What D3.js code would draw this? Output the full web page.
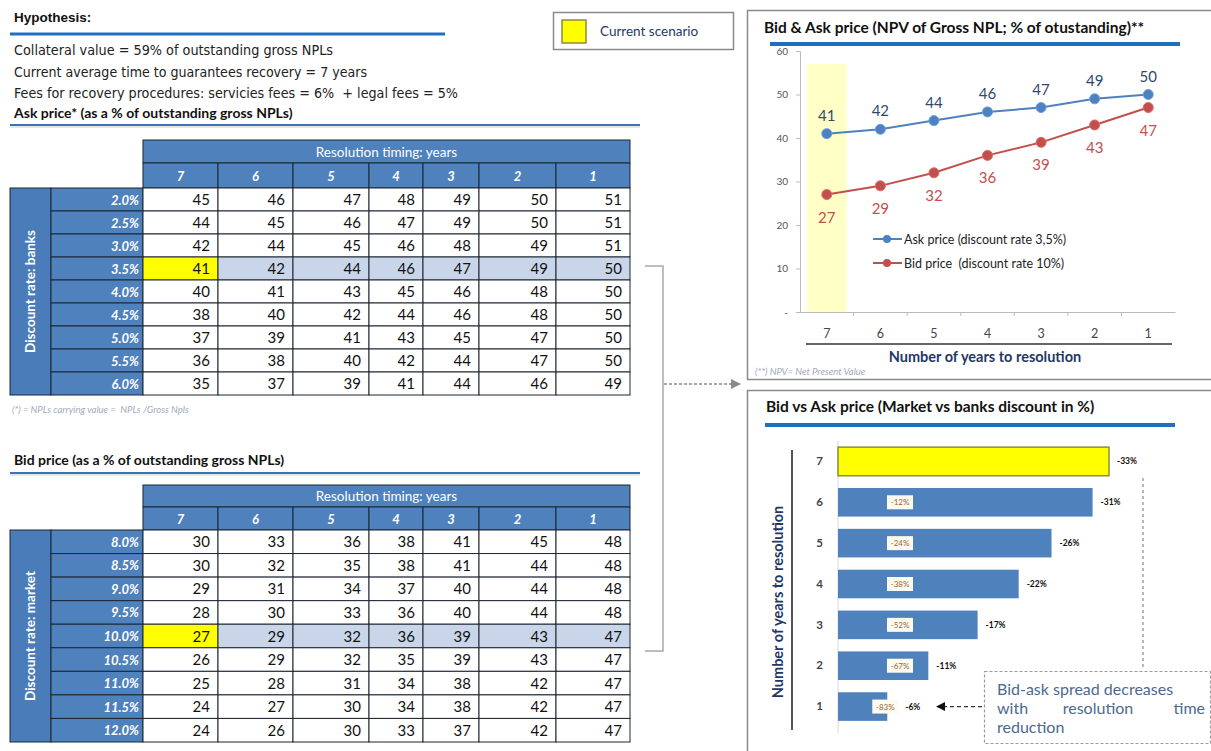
<!DOCTYPE html>
<html>
<head>
<meta charset="utf-8">
<script src="https://cdn.jsdelivr.net/npm/d3@7"></script>
<style>
  body { margin: 0; background: #fff; }
  svg { display: block; }
</style>
</head>
<body>
<script>
// ---- data ----
const years = [7, 6, 5, 4, 3, 2, 1]

const hypothesis = [
    "Collateral value = 59% of outstanding gross NPLs",
    "Current average time to guarantees recovery = 7 years",
    "Fees for recovery procedures: servicies fees = 6%  + legal fees = 5%"
]

const askRates = ["2.0%", "2.5%", "3.0%", "3.5%", "4.0%", "4.5%", "5.0%", "5.5%", "6.0%"]
const askValues = [
    [45, 46, 47, 48, 49, 50, 51],
    [44, 45, 46, 47, 49, 50, 51],
    [42, 44, 45, 46, 48, 49, 51],
    [41, 42, 44, 46, 47, 49, 50],
    [40, 41, 43, 45, 46, 48, 50],
    [38, 40, 42, 44, 46, 48, 50],
    [37, 39, 41, 43, 45, 47, 50],
    [36, 38, 40, 42, 44, 47, 50],
    [35, 37, 39, 41, 44, 46, 49]
]

const bidRates = ["8.0%", "8.5%", "9.0%", "9.5%", "10.0%", "10.5%", "11.0%", "11.5%", "12.0%"]
const bidValues = [
    [30, 33, 36, 38, 41, 45, 48],
    [30, 32, 35, 38, 41, 44, 48],
    [29, 31, 34, 37, 40, 44, 48],
    [28, 30, 33, 36, 40, 44, 48],
    [27, 29, 32, 36, 39, 43, 47],
    [26, 29, 32, 35, 39, 43, 47],
    [25, 28, 31, 34, 38, 42, 47],
    [24, 27, 30, 34, 38, 42, 47],
    [24, 26, 30, 33, 37, 42, 47]
]

const askCurrentRate = "3.5%"
const bidCurrentRate = "10.0%"
const askLine = askValues[askRates.indexOf(askCurrentRate)]
const bidLine = bidValues[bidRates.indexOf(bidCurrentRate)]

const spread = [-33, -31, -26, -22, -17, -11, -6]
const spreadChange = [null, -12, -24, -38, -52, -67, -83]

// ---- layout ----
const W = 1211, H = 751
const sans = "Lato, 'Open Sans', sans-serif"
const narrow = "'Liberation Sans Narrow', 'DejaVu Sans Condensed', sans-serif"
const blue = "#4F81BD"
const red = "#C0504D"
const navy = "#1F3864"
const colWidths = [75, 75, 76, 54, 56, 77, 74]

const svg = d3.select("body").append("svg").attr("width", W).attr("height", H)
svg.append("rect").attr("width", W).attr("height", H).attr("fill", "#fff")

// ---- hypothesis block ----
svg.append("text").attr("x", 14).attr("y", 22).text("Hypothesis:")
    .attr("font-family", "'Liberation Sans', Arial, sans-serif").attr("font-weight", "bold")
    .attr("font-size", 13.5).attr("fill", "#111")
svg.append("line").attr("x1", 10).attr("x2", 445).attr("y1", 34).attr("y2", 34)
    .attr("stroke", "#1F6FBF").attr("stroke-width", 3)

const hypWidths = [319, 353, 444]
hypothesis.forEach((t, i) => {
    svg.append("text").attr("x", 14).attr("y", 55 + i * 21.5).text(t).style("white-space", "pre")
        .attr("font-family", narrow).attr("font-size", 14).attr("fill", "#222")
        .attr("textLength", hypWidths[i]).attr("lengthAdjust", "spacingAndGlyphs")
})

function sectionTitle(txt, y, lineY) {
    svg.append("text").attr("x", 14).attr("y", y).text(txt)
        .attr("font-family", sans).attr("font-weight", "bold").attr("font-size", 14).attr("fill", "#111")
    svg.append("line").attr("x1", 10).attr("x2", 640).attr("y1", lineY).attr("y2", lineY)
        .attr("stroke", "#3F72B5").attr("stroke-width", 2.2)
    svg.append("line").attr("x1", 10).attr("x2", 640).attr("y1", lineY + 2).attr("y2", lineY + 2)
        .attr("stroke", "#C8CCD4").attr("stroke-width", 1)
}
sectionTitle("Ask price* (as a % of outstanding gross NPLs)", 118, 125)
sectionTitle("Bid price (as a % of outstanding gross NPLs)", 465, 473)

// current scenario legend
svg.append("rect").attr("x", 553.5).attr("y", 12.5).attr("width", 180).attr("height", 37)
    .attr("fill", "#fff").attr("stroke", "#8a8a8a").attr("stroke-width", 1.5)
svg.append("rect").attr("x", 562).attr("y", 20).attr("width", 24).attr("height", 23)
    .attr("fill", "#FFFF00").attr("stroke", "#8C8C3A").attr("stroke-width", 1.5)
svg.append("text").attr("x", 600).attr("y", 36).text("Current scenario")
    .attr("font-family", sans).attr("font-size", 13.5).attr("fill", navy)

// ---- tables ----
function drawTable(cfg) {
    const g = svg.append("g")
    const xStart = 143
    const colX = d3.scaleOrdinal().domain(years)
        .range(d3.cumsum([0].concat(colWidths.slice(0, -1))).map(d => xStart + d))
    const colW = d3.scaleOrdinal().domain(years).range(colWidths)
    const xEnd = xStart + d3.sum(colWidths)
    const row = d3.scaleBand().domain(cfg.rates).range([cfg.bodyTop, cfg.bottom])
    const stroke = "#1c2633"

    // header rows
    g.append("rect").attr("x", xStart).attr("y", cfg.top).attr("width", xEnd - xStart)
        .attr("height", cfg.head2 - cfg.top).attr("fill", blue).attr("stroke", stroke)
    g.append("text").attr("x", (xStart + xEnd) / 2).attr("y", (cfg.top + cfg.head2) / 2 + 5)
        .attr("text-anchor", "middle").text("Resolution timing: years")
        .attr("font-family", sans).attr("font-size", 13.5).attr("fill", "#fff")
    years.forEach(y => {
        g.append("rect").attr("x", colX(y)).attr("y", cfg.head2).attr("width", colW(y))
            .attr("height", cfg.bodyTop - cfg.head2).attr("fill", blue).attr("stroke", stroke)
        g.append("text").attr("x", colX(y) + colW(y) / 2).attr("y", (cfg.head2 + cfg.bodyTop) / 2 + 5)
            .attr("text-anchor", "middle").text(y)
            .attr("font-family", sans).attr("font-size", 13).attr("font-weight", "bold")
            .attr("font-style", "italic").attr("fill", "#fff")
    })

    // vertical title bar
    g.append("rect").attr("x", 10).attr("y", cfg.bodyTop).attr("width", 41)
        .attr("height", cfg.bottom - cfg.bodyTop).attr("fill", "#4A7CBA").attr("stroke", stroke)
    const cy = (cfg.bodyTop + cfg.bottom) / 2
    g.append("text").attr("transform", `translate(35,${cy}) rotate(-90)`)
        .attr("text-anchor", "middle").text(cfg.rowTitle)
        .attr("font-family", sans).attr("font-size", 13.5).attr("font-weight", "bold").attr("fill", "#fff")

    cfg.rates.forEach((r, i) => {
        const y0 = row(r), h = row.bandwidth()
        g.append("rect").attr("x", 51).attr("y", y0).attr("width", xStart - 51).attr("height", h)
            .attr("fill", blue).attr("stroke", stroke)
        g.append("text").attr("x", xStart - 4).attr("y", y0 + h / 2 + 5)
            .attr("text-anchor", "end").text(r)
            .attr("font-family", sans).attr("font-size", 13).attr("font-weight", "bold")
            .attr("font-style", "italic").attr("fill", "#fff")
        const current = r === cfg.current
        years.forEach((yr, j) => {
            let fill = "#fff"
            if (current) fill = j === 0 ? "#FFFF00" : "#C9D6EA"
            g.append("rect").attr("x", colX(yr)).attr("y", y0).attr("width", colW(yr)).attr("height", h)
                .attr("fill", fill).attr("stroke", stroke)
            g.append("text").attr("x", colX(yr) + colW(yr) - 8).attr("y", y0 + h / 2 + 5.5)
                .attr("text-anchor", "end").text(cfg.values[i][j])
                .attr("font-family", sans).attr("font-size", 15).attr("fill", "#111")
        })
    })
}

drawTable({ top: 140, head2: 163, bodyTop: 188, bottom: 395, rates: askRates, values: askValues,
    rowTitle: "Discount rate: banks", current: askCurrentRate })
drawTable({ top: 485, head2: 507, bodyTop: 530, bottom: 742, rates: bidRates, values: bidValues,
    rowTitle: "Discount rate: market", current: bidCurrentRate })

svg.append("text").attr("x", 12).attr("y", 413).text("(*) = NPLs carrying value =  NPLs /Gross Npls")
    .style("white-space", "pre")
    .attr("font-family", sans).attr("font-size", 9.5).attr("font-style", "italic").attr("fill", "#9FAAC0")

// bracket + arrow
svg.append("path").attr("d", "M645,266 H663 V651 H645").attr("fill", "none")
    .attr("stroke", "#a9a9a9").attr("stroke-width", 1.5)
const defs = svg.append("defs")
defs.append("marker").attr("id", "arrGray").attr("viewBox", "0 0 10 10").attr("refX", 9).attr("refY", 5)
    .attr("markerWidth", 7).attr("markerHeight", 7).attr("orient", "auto")
    .append("path").attr("d", "M0,0 L10,5 L0,10 z").attr("fill", "#8a8a8a")
defs.append("marker").attr("id", "arrBlack").attr("viewBox", "0 0 10 10").attr("refX", 9).attr("refY", 5)
    .attr("markerWidth", 7).attr("markerHeight", 7).attr("orient", "auto")
    .append("path").attr("d", "M0,0 L10,5 L0,10 z").attr("fill", "#111")
svg.append("line").attr("x1", 664).attr("x2", 740).attr("y1", 384).attr("y2", 384)
    .attr("stroke", "#8a8a8a").attr("stroke-width", 1.5).attr("stroke-dasharray", "3,2")
    .attr("marker-end", "url(#arrGray)")

// ---- top right: line chart ----
svg.append("rect").attr("x", 747.5).attr("y", 10.5).attr("width", 480).attr("height", 369)
    .attr("fill", "#fff").attr("stroke", "#8a8a8a").attr("stroke-width", 1.5)
svg.append("text").attr("x", 764).attr("y", 33).text("Bid & Ask price (NPV of Gross NPL; % of otustanding)**")
    .attr("font-family", sans).attr("font-weight", "bold").attr("font-size", 15.5).attr("fill", "#111")
svg.append("line").attr("x1", 770).attr("x2", 1180).attr("y1", 44).attr("y2", 44)
    .attr("stroke", "#1F6FBF").attr("stroke-width", 4)

const xL = d3.scaleBand().domain(years).range([800, 1175])
const yL = d3.scaleLinear().domain([0, 60]).range([312, 51])
const cx = d => xL(d) + xL.bandwidth() / 2

svg.append("rect").attr("x", xL(7) + 7).attr("y", yL(57)).attr("width", xL.bandwidth() - 14)
    .attr("height", yL(0) - yL(57)).attr("fill", "#FFFFC6")

const yAx = svg.append("g").attr("transform", "translate(800,0)")
    .call(d3.axisLeft(yL).tickValues([0, 10, 20, 30, 40, 50, 60]).tickSize(4).tickPadding(8)
        .tickFormat(d => d === 0 ? "-" : d))
yAx.selectAll("text").attr("font-family", sans).attr("font-size", 10).attr("fill", "#555")
yAx.selectAll("line").attr("stroke", "#bbb")
yAx.select(".domain").attr("stroke", "#bbb")

const xAx = svg.append("g").attr("transform", "translate(0,312)")
    .call(d3.axisBottom(xL).tickSize(0).tickPadding(17))
xAx.selectAll("text").attr("font-family", sans).attr("font-size", 12.5).attr("fill", "#444")
xAx.select(".domain").attr("stroke", "#bbb")
xAx.selectAll(".bnd").data(years.slice(1)).join("line").attr("class", "bnd")
    .attr("x1", d => xL(d)).attr("x2", d => xL(d)).attr("y1", 0).attr("y2", 4).attr("stroke", "#bbb")
svg.append("line").attr("x1", 806).attr("x2", 1172).attr("y1", 344).attr("y2", 344)
    .attr("stroke", "#333").attr("stroke-width", 1.5)
svg.append("text").attr("x", 985).attr("y", 362).attr("text-anchor", "middle")
    .text("Number of years to resolution")
    .attr("font-family", sans).attr("font-weight", "bold").attr("font-size", 14.5).attr("fill", navy)
svg.append("text").attr("x", 755).attr("y", 375).text("(**) NPV= Net Present Value")
    .attr("font-family", sans).attr("font-size", 9.5).attr("font-style", "italic").attr("fill", "#9FAAC0")

const line = d3.line().x((d, i) => cx(years[i])).y(d => yL(d))
const series = [
    { vals: askLine, color: blue, label: "#2F4A6D", dy: -13 },
    { vals: bidLine, color: red, label: red, dy: 28 }
]
series.forEach(s => {
    svg.append("path").attr("d", line(s.vals)).attr("fill", "none")
        .attr("stroke", s.color).attr("stroke-width", 2)
    svg.selectAll(null).data(s.vals).join("circle")
        .attr("cx", (d, i) => cx(years[i])).attr("cy", d => yL(d)).attr("r", 5)
        .attr("fill", s.color).attr("stroke", d3.color(s.color).brighter(0.6)).attr("stroke-width", 1)
    svg.selectAll(null).data(s.vals).join("text")
        .attr("x", (d, i) => cx(years[i])).attr("y", d => yL(d) + s.dy)
        .attr("text-anchor", "middle").text(d => d)
        .attr("font-family", sans).attr("font-size", 15).attr("fill", s.label)
})

const legend = [
    { name: "Ask price (discount rate 3,5%)", color: blue },
    { name: "Bid price  (discount rate 10%)", color: red }
]
legend.forEach((l, i) => {
    const ly = 239 + i * 24
    svg.append("line").attr("x1", 873).attr("x2", 902).attr("y1", ly).attr("y2", ly)
        .attr("stroke", l.color).attr("stroke-width", 2)
    svg.append("circle").attr("cx", 887).attr("cy", ly).attr("r", 4).attr("fill", l.color)
    svg.append("text").attr("x", 904).attr("y", ly + 4.5).text(l.name).style("white-space", "pre")
        .attr("font-family", sans).attr("font-size", 12.5).attr("fill", "#222")
})

// ---- bottom right: bar chart ----
svg.append("rect").attr("x", 747.5).attr("y", 390.5).attr("width", 480).attr("height", 380)
    .attr("fill", "#fff").attr("stroke", "#8a8a8a").attr("stroke-width", 1.5)
svg.append("text").attr("x", 766).attr("y", 412).text("Bid vs Ask price (Market vs banks discount in %)")
    .attr("font-family", sans).attr("font-weight", "bold").attr("font-size", 15.5).attr("fill", "#111")
svg.append("line").attr("x1", 765).attr("x2", 1175).attr("y1", 425).attr("y2", 425)
    .attr("stroke", "#1F6FBF").attr("stroke-width", 4)

const yB = d3.scaleBand().domain(years).range([441, 727]).paddingInner(0.3).paddingOuter(0.15)
const xB = d3.scaleLinear().domain([0, 33]).range([838, 1109])
const by = d => yB(d) + yB.bandwidth() / 2

svg.append("line").attr("x1", 838).attr("x2", 838).attr("y1", 441).attr("y2", 733)
    .attr("stroke", "#d8d8d8")
svg.append("line").attr("x1", 792).attr("x2", 792).attr("y1", 450).attr("y2", 730)
    .attr("stroke", "#555").attr("stroke-width", 2)
svg.append("text").attr("transform", "translate(783,602) rotate(-90)").attr("text-anchor", "middle")
    .text("Number of years to resolution")
    .attr("font-family", sans).attr("font-weight", "bold").attr("font-size", 14.5).attr("fill", navy)

const yBx = svg.append("g").attr("transform", "translate(830,0)")
    .call(d3.axisLeft(yB).tickSize(0).tickPadding(7))
yBx.select(".domain").remove()
yBx.selectAll("text").attr("font-family", sans).attr("font-size", 11.5).attr("font-weight", "bold").attr("fill", "#444")

svg.selectAll(null).data(spread).join("rect")
    .attr("x", xB(0)).attr("y", (d, i) => yB(years[i]))
    .attr("width", d => xB(Math.abs(d)) - xB(0)).attr("height", yB.bandwidth())
    .attr("fill", (d, i) => i === 0 ? "#FFFF00" : blue)
    .attr("stroke", (d, i) => i === 0 ? "#8C8C3A" : "none").attr("stroke-width", 1.5)

// inner labels (change of spread vs 7 years) then outside labels placed after them
const innerX = spread.map(d => Math.min(xB(0) + 62, xB(Math.abs(d)) - 2))
spreadChange.forEach((c, i) => {
    if (c === null) return
    const mx = innerX[i]
    const my = by(years[i])
    svg.append("rect").attr("x", mx - 13).attr("y", my - 7).attr("width", 26).attr("height", 14)
        .attr("fill", "#FBFBF0")
    svg.append("text").attr("x", mx).attr("y", my + 3).attr("text-anchor", "middle").text(c + "%")
        .attr("font-family", sans).attr("font-size", 8).attr("fill", "#9C6236")
})

svg.selectAll(null).data(spread).join("text")
    .attr("x", (d, i) => {
        let x = xB(Math.abs(d)) + 8
        if (spreadChange[i] !== null) x = Math.max(x, innerX[i] + 20)
        return x
    })
    .attr("y", (d, i) => by(years[i]) + 3)
    .text(d => d + "%")
    .attr("font-family", sans).attr("font-size", 8.5).attr("font-weight", "bold").attr("fill", "#111")

// annotation
svg.append("line").attr("x1", 1143).attr("x2", 1143).attr("y1", 478).attr("y2", 670)
    .attr("stroke", "#8a8a8a").attr("stroke-width", 1.2).attr("stroke-dasharray", "3,3")
svg.append("rect").attr("x", 984.5).attr("y", 671.5).attr("width", 226).attr("height", 72)
    .attr("fill", "#fff").attr("stroke", "#9a9a9a").attr("stroke-width", 1.2).attr("stroke-dasharray", "3,2")
const noteC = "#4B6A8E"
const note = svg.append("g").attr("font-family", sans).attr("font-size", 16).attr("fill", noteC)
note.append("text").attr("x", 997).attr("y", 695).text("Bid-ask spread decreases")
note.append("text").attr("x", 997).attr("y", 714).text("with")
note.append("text").attr("x", 1098).attr("y", 714).attr("text-anchor", "middle").text("resolution")
note.append("text").attr("x", 1205).attr("y", 714).attr("text-anchor", "end").text("time")
note.append("text").attr("x", 997).attr("y", 733).text("reduction")
svg.append("line").attr("x1", 982).attr("x2", 937).attr("y1", by(1)).attr("y2", by(1))
    .attr("stroke", "#333").attr("stroke-width", 1.3).attr("stroke-dasharray", "4,3")
    .attr("marker-end", "url(#arrBlack)")
</script>
</body>
</html>
